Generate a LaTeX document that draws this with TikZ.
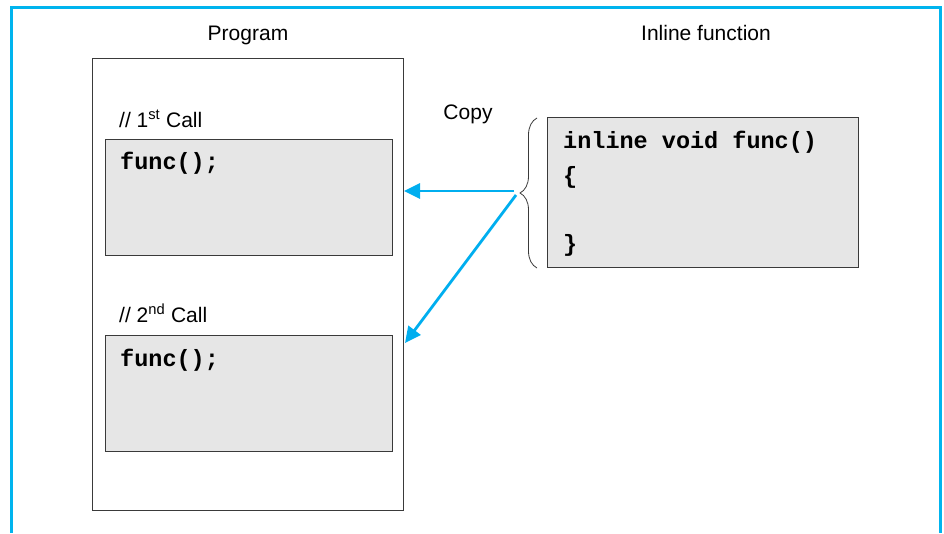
\documentclass[tikz,border=0pt]{standalone}
\usepackage{fontspec}
\setmainfont{Liberation Sans}
\newfontfamily\codefont{Liberation Mono}
\usetikzlibrary{arrows.meta,decorations.pathreplacing}
\definecolor{frameblue}{HTML}{00B4EE}
\definecolor{arrowblue}{HTML}{00AEEF}
\definecolor{boxgray}{HTML}{E6E6E6}
\definecolor{edgegray}{HTML}{3A3A3A}
\tikzset{
  lbl/.style={font=\fontsize{21}{24}\selectfont, inner sep=0pt, anchor=base},
  code/.style={font=\codefont\bfseries\fontsize{23.5}{26}\selectfont, inner sep=0pt, anchor=base west},
  graybox/.style={draw=edgegray, fill=boxgray, line width=1.2pt},
  outerbox/.style={draw=edgegray, line width=1.2pt},
  copyarrow/.style={draw=arrowblue, line width=2.8pt, -{Triangle[length=16pt,width=15pt]}},
}
\begin{document}
\begin{tikzpicture}[x=1pt,y=-1pt]
\useasboundingbox (0,0) rectangle (944,533);
% frame
\draw[frameblue, line width=3pt] (11,533) -- (11,7) -- (940,7) -- (940,533);
% program box
\node[outerbox, minimum width=311pt, minimum height=452pt, anchor=north west, inner sep=0pt] (prog) at (92,58) {};
\node[graybox, minimum width=287pt, minimum height=116pt, anchor=north west, inner sep=0pt] (call1) at (105,139) {};
\node[graybox, minimum width=287pt, minimum height=116pt, anchor=north west, inner sep=0pt] (call2) at (105,335) {};
% inline function box
\node[graybox, minimum width=311pt, minimum height=150pt, anchor=north west, inner sep=0pt] (inl) at (547,117) {};
% titles
\node[lbl] (tprog) at (248,40) {Program};
\node[lbl] (tinl) at (706,40) {Inline function};
\node[lbl] (tcopy) at (468,119) {Copy};
\node[lbl, anchor=base west] (c1) at (119,127) {// 1\textsuperscript{st} Call};
\node[lbl, anchor=base west] (c2) at (119,322) {// 2\textsuperscript{nd} Call};
% code
\node[code] (f1) at (120,169) {func();};
\node[code] (f2) at (120,366) {func();};
\node[code] (s1) at (563,148) {inline void func()};
\node[code] (s2) at (563,183) {\{};
\node[code] (s3) at (563,251) {\}};
% brace
\draw[edgegray, line width=0.8pt, decorate, decoration={brace, amplitude=17pt}] (537,268) -- (537,118);
\coordinate (tipa) at (514,191);
\coordinate (tipb) at (516,195);
\coordinate (a1) at (404,191);
\coordinate (a2) at (405,343);
\draw[copyarrow] (tipa) -- (a1);
\draw[copyarrow] (tipb) -- (a2);
\end{tikzpicture}
\end{document}
